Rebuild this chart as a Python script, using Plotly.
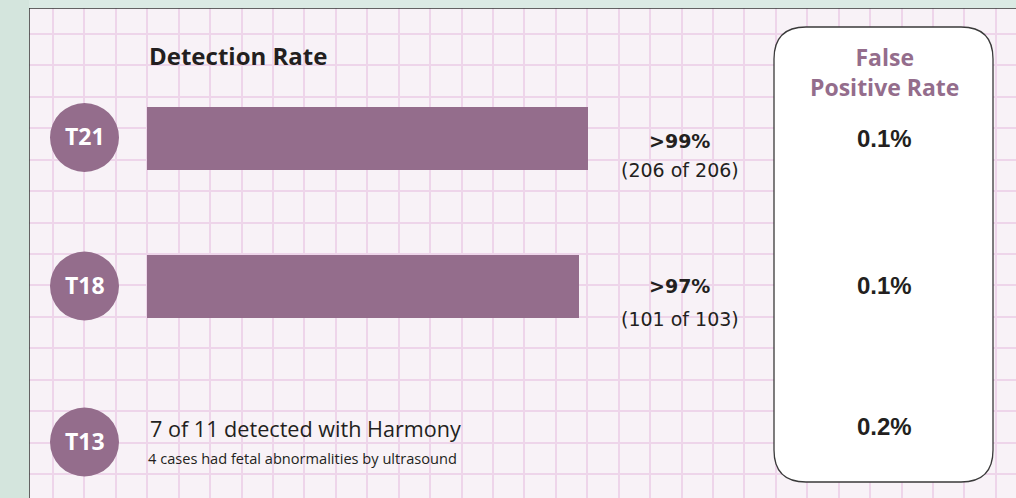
import plotly.graph_objects as go

# ---------------- data ----------------
labels = ["T21", "T18", "T13"]
detection_pct = [99, 97, None]          # bar lengths (%)
detection_text = [">99%", ">97%", None]
detected = [206, 101, 7]
total = [206, 103, 11]
fpr_text = ["0.1%", "0.1%", "0.2%"]
title_left = "Detection Rate"
title_right = "False<br>Positive Rate"
t13_main = "7 of 11 detected with Harmony"
t13_note = "4 cases had fetal abnormalities by ultrasound"

# ---------------- styles / layout constants ----------------
W, H = 1016, 498
PURPLE = "#946d8c"
DARK = "#231f20"
PANEL = "#f8f2f7"
OUTER_L = "#d4e5dd"
OUTER_T = "#dbeae4"
GRID = "#eed5ea"
row_y = [137.5, 286, 442]       # pixel rows of circles
circle_x = 84.5
circle_r = 34.5

fig = go.Figure()

# pixel overlay subplot (x / y) spanning the panel: grid + decorations (drawn first, underneath)
fig.add_trace(go.Scatter(x=[30], y=[400], mode="markers", marker=dict(opacity=0),
                         xaxis="x", yaxis="y", hoverinfo="skip", showlegend=False))

# bars on their own value axes (x2: percent, y2: category), drawn above the grid
fig.add_trace(go.Bar(
    x=detection_pct, y=labels, orientation="h",
    marker=dict(color=PURPLE, line=dict(width=0)),
    width=0.43, hoverinfo="skip", showlegend=False,
    xaxis="x2", yaxis="y2",
))

# bar axes: 0% at px 147, 100% at px 592.5 ; T21 at px 138.5, T18 at px 286.5
bx0, bx1 = 147, 592.5
by_top_px, by_bot_px = 138.5 - 0.3 * 148, 138.5 + 1.5 * 148
fig.update_layout(
    xaxis=dict(domain=[29 / W, 1], range=[29, W], anchor="y",
               showgrid=True, gridcolor=GRID, gridwidth=1.5,
               tickmode="linear", tick0=53, dtick=31.43,
               showticklabels=False, ticks="", zeroline=False, showline=False, fixedrange=True),
    yaxis=dict(domain=[0, (H - 8) / H], range=[H, 8], anchor="x",
               showgrid=True, gridcolor=GRID, gridwidth=1.5,
               tickmode="linear", tick0=34, dtick=31.43,
               showticklabels=False, ticks="", zeroline=False, showline=False, fixedrange=True),
    xaxis2=dict(domain=[bx0 / W, bx1 / W], range=[0, 100], anchor="y2",
                visible=False, fixedrange=True),
    yaxis2=dict(domain=[(H - by_bot_px) / H, (H - by_top_px) / H], anchor="x2", type="category",
                categoryorder="array", categoryarray=labels,
                range=[1.5, -0.3], visible=False, fixedrange=True),
)

shapes = []
# outer green strips
shapes.append(dict(type="rect", xref="paper", yref="paper", x0=0, x1=1, y0=(H - 8) / H, y1=1,
                   fillcolor=OUTER_T, line=dict(width=0), layer="below"))
shapes.append(dict(type="rect", xref="paper", yref="paper", x0=0, x1=29 / W, y0=0, y1=1,
                   fillcolor=OUTER_L, line=dict(width=0), layer="below"))
# panel border
shapes.append(dict(type="rect", xref="x", yref="y", x0=29, x1=W + 5, y0=8, y1=H + 5,
                   fillcolor="rgba(0,0,0,0)", line=dict(color="#333333", width=1.5), layer="above"))
# rounded white box
r = 32
bx_l, bx_r, by_t, by_b = 774, 993, 27, 482
path = (f"M {bx_l + r},{by_t} L {bx_r - r},{by_t} Q {bx_r},{by_t} {bx_r},{by_t + r} "
        f"L {bx_r},{by_b - r} Q {bx_r},{by_b} {bx_r - r},{by_b} "
        f"L {bx_l + r},{by_b} Q {bx_l},{by_b} {bx_l},{by_b - r} "
        f"L {bx_l},{by_t + r} Q {bx_l},{by_t} {bx_l + r},{by_t} Z")
shapes.append(dict(type="path", xref="x", yref="y", path=path, fillcolor="white",
                   line=dict(color="#3a3a3a", width=1.3), layer="above"))
# circles
for yy in row_y:
    shapes.append(dict(type="circle", xref="x", yref="y",
                       x0=circle_x - circle_r, x1=circle_x + circle_r,
                       y0=yy - circle_r, y1=yy + circle_r,
                       fillcolor=PURPLE, line=dict(width=0), layer="above"))

ann = []
def A(text, x, y, size, color=DARK, family="Open Sans", xanchor="center", bold=False):
    t = f"<b>{text}</b>" if bold else text
    ann.append(dict(text=t, x=x, y=y, xref="x", yref="y", xanchor=xanchor, yanchor="middle",
                    showarrow=False, font=dict(size=size, color=color, family=family)))

A(title_left, 147, 56, 24, bold=True, xanchor="left")
A(title_right, 884, 72, 23, color=PURPLE, bold=True)

for i, lab in enumerate(labels):
    A(lab, circle_x, row_y[i] - 1.5, 23, color="white", bold=True)
    A(fpr_text[i], 884, [138, 285, 426][i], 24, family="Liberation Sans", bold=True)

sub_y = [170, 319]
main_y = [140.5, 285.5]
for i in range(2):
    A(detection_text[i], 679.5, main_y[i], 19, family="DejaVu Sans", bold=True)
    A(f"({detected[i]} of {total[i]})", 679.5, sub_y[i], 19, family="DejaVu Sans")

A(t13_main, 148, 428, 21.6, xanchor="left")
A(t13_note, 146, 458, 14.6, xanchor="left")

fig.update_layout(
    width=W, height=H, margin=dict(l=0, r=0, t=0, b=0),
    paper_bgcolor=PANEL, plot_bgcolor="rgba(0,0,0,0)",
    shapes=shapes, annotations=ann, showlegend=False,
    bargap=0,
)
fig.write_html("out.html")
